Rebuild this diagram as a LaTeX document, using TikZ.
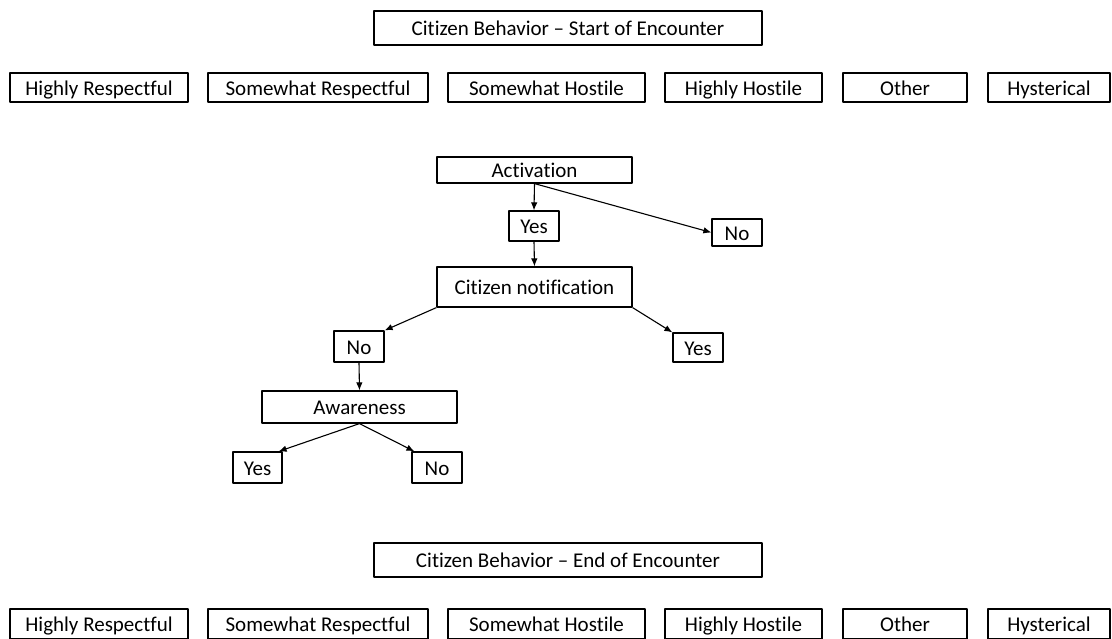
\documentclass[tikz,border=0pt]{standalone}
\usepackage{fontspec}
\setmainfont{Carlito}[Ligatures=NoCommon]
\usetikzlibrary{arrows.meta}
\begin{document}
\begin{tikzpicture}[x=1pt,y=-1pt,>={Latex[length=8pt,width=6.5pt]},line join=round,font=\fontsize{21}{25}\selectfont,
	box/.style={draw,line width=1.2pt,inner sep=0pt,anchor=center,text height=19pt,text depth=4pt},
	arr/.style={->,line width=1.1pt}]
	\useasboundingbox (0,0) rectangle (1112,638);
	% titles
	\node[box,minimum width=388,minimum height=34] (start) at (568,28) {Citizen Behavior -- Start of Encounter};
	\node[box,minimum width=388,minimum height=34] (end) at (568,560) {Citizen Behavior -- End of Encounter};
	% categories, start and end
	\foreach \n/\x/\w/\t in {hr/99/178/Highly Respectful,sr/318/220/Somewhat Respectful,sh/546.5/197/Somewhat Hostile,hh/743.5/157/Highly Hostile,ot/905/124/Other,hy/1049/122/Hysterical}{
		\node[box,minimum width=\w,minimum height=29] (\n1) at (\x,87.5) {\t};
		\node[box,minimum width=\w,minimum height=30] (\n2) at (\x,624) {\t};
	}
	% tree
	\node[box,minimum width=195,minimum height=26] (act) at (534.5,170) {Activation};
	\node[box,minimum width=50,minimum height=30] (actyes) at (534,226) {Yes};
	\node[box,minimum width=50,minimum height=27] (actno) at (737,232.5) {No};
	\node[box,minimum width=195,minimum height=40] (note) at (534.5,287) {Citizen notification};
	\node[box,minimum width=50,minimum height=29] (noteyes) at (698,347.5) {Yes};
	\node[box,minimum width=50,minimum height=31] (noteno) at (359,346.5) {No};
	\node[box,minimum width=195,minimum height=32] (aware) at (359.5,407) {Awareness};
	\node[box,minimum width=49,minimum height=31] (awyes) at (257.5,467.5) {Yes};
	\node[box,minimum width=50,minimum height=31] (awno) at (437,467.5) {No};
	\draw[arr] (act.south) -- (actyes.north);
	\draw[arr] (act.south) -- (actno.west);
	\draw[arr] (actyes.south) -- (note.north);
	\draw[arr] (note.south east) -- (noteyes.north west);
	\draw[arr] (note.south west) -- (noteno.north east);
	\draw[arr] (noteno.south) -- (aware.north);
	\draw[arr] (aware.south) -- ([xshift=-4]awyes.north east);
	\draw[arr] (aware.south) -- ([xshift=3]awno.north west);
\end{tikzpicture}
\end{document}
